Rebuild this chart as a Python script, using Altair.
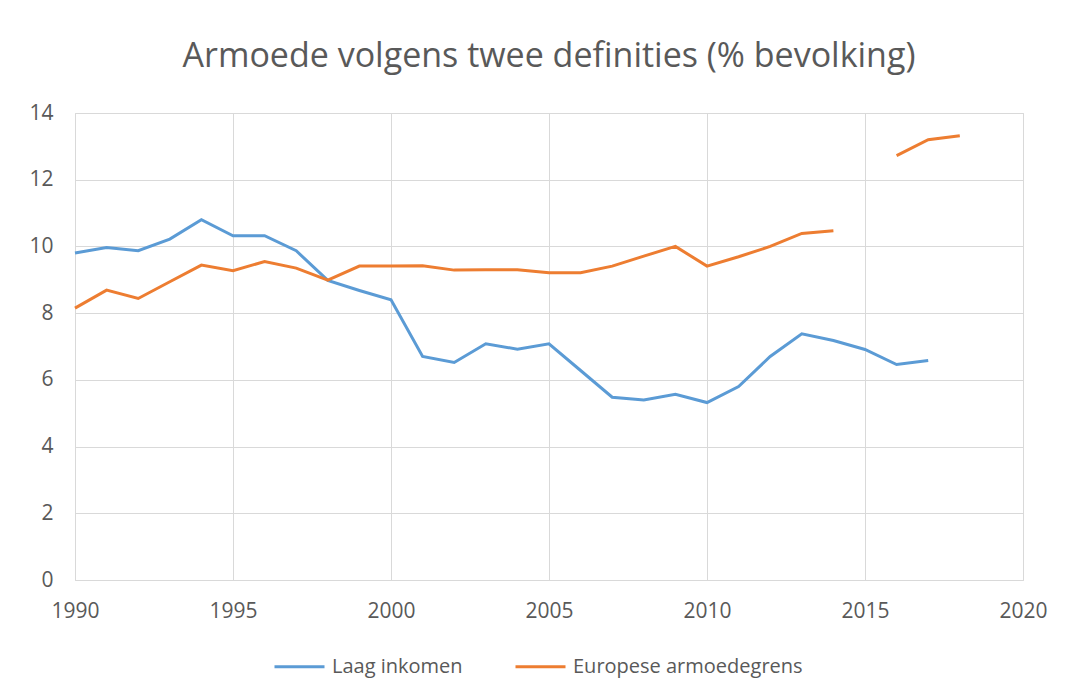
import altair as alt
import pandas as pd

years = list(range(1990, 2019))
laag_inkomen = [9.8, 9.97, 9.87, 10.22, 10.8, 10.32, 10.32, 9.87, 8.98, 8.68, 8.4,
                6.7, 6.52, 7.08, 6.92, 7.08, 6.28, 5.48, 5.4, 5.57, 5.32,
                5.8, 6.7, 7.38, 7.18, 6.91, 6.46, 6.58, None]
europese = [8.15, 8.69, 8.44, 8.94, 9.44, 9.27, 9.55, 9.35, 8.99, 9.41, 9.41,
            9.42, 9.29, 9.3, 9.3, 9.21, 9.21, 9.41, 9.71, 10.0, 9.41,
            9.69, 10.0, 10.39, 10.47, None, 12.72, 13.2, 13.32]

series_names = ["Laag inkomen", "Europese armoedegrens"]
colors = ["#5B9BD5", "#ED7D31"]

rows = []
for name, vals in zip(series_names, [laag_inkomen, europese]):
    seg = 0
    for y, v in zip(years, vals):
        if v is None:
            seg += 1
            continue
        rows.append({"jaar": y, "waarde": v, "reeks": name, "segment": f"{name}-{seg}"})
df = pd.DataFrame(rows)

FONT = "Open Sans"
GREY = "#595959"

chart = alt.Chart(df).mark_line(strokeWidth=3).encode(
    x=alt.X("jaar:Q", scale=alt.Scale(domain=[1990, 2020], nice=False),
            axis=alt.Axis(values=[1990, 1995, 2000, 2005, 2010, 2015, 2020], format="d",
                          title=None, labelPadding=20, labelFontSize=21, labelFlush=False)),
    y=alt.Y("waarde:Q", scale=alt.Scale(domain=[0, 14], nice=False),
            axis=alt.Axis(values=[0, 2, 4, 6, 8, 10, 12, 14], title=None,
                          labelPadding=22, labelFontSize=21)),
    color=alt.Color("reeks:N", scale=alt.Scale(domain=series_names, range=colors),
                    legend=alt.Legend(title=None, orient="none", direction="horizontal",
                                      legendX=198, legendY=527, symbolType="stroke",
                                      symbolSize=2500, symbolStrokeWidth=3,
                                      labelFontSize=20, columnPadding=46, labelOffset=6,
                                      labelLimit=400)),
    detail="segment:N",
).properties(
    width=948, height=467,
    title=alt.TitleParams("Armoede volgens twee definities (% bevolking)", fontSize=34,
                          font=FONT, color=GREY, fontWeight="normal", offset=28),
    autosize=alt.AutoSizeParams(type="none"),
    padding={"left": 67, "top": 105, "right": 30, "bottom": 100},
).configure_view(stroke="#d9d9d9", strokeWidth=1).configure_axis(
    grid=True, gridColor="#d9d9d9", gridWidth=1, domain=False, ticks=False,
    labelColor=GREY, labelFont=FONT,
).configure_legend(labelColor=GREY, labelFont=FONT)

chart.save("out.html", embed_options={"renderer": "svg", "actions": False})
